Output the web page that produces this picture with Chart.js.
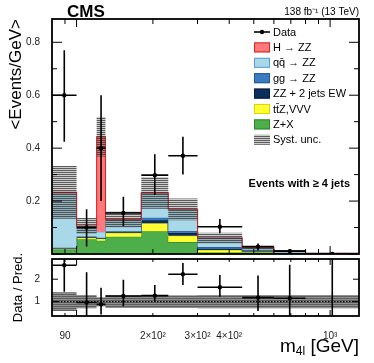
<!DOCTYPE html>
<html>
<head>
<meta charset="utf-8">
<script src="https://cdn.jsdelivr.net/npm/chart.js@4.4.1/dist/chart.umd.min.js"></script>
<style>
  html, body { margin: 0; padding: 0; background: #fff; }
  #wrap { position: relative; width: 374px; height: 363px; }
  #main { position: absolute; left: 0; top: 0; }
  #ratio { position: absolute; left: 0; top: 246px; }
</style>
</head>
<body>
<div id="wrap">
  <canvas id="main" width="374" height="258"></canvas>
  <canvas id="ratio" width="374" height="117"></canvas>
</div>
<script>
// m4l bins (GeV)
const binEdges  = [80, 100, 120, 130, 180, 230, 300, 450, 600, 800, 1300];

// stacked predictions, <Events/GeV>, bottom to top
const zxVals    = [0.016, 0.056, 0.050, 0.065, 0.086, 0.045, 0.006, 0.007, 0.001, 0.0003];
const ttzVals   = [0.003, 0.006, 0.008, 0.015, 0.030, 0.024, 0.009, 0.002, 0.001, 0.0003];
const ewVals    = [0.001, 0.002, 0.001, 0.002, 0.012, 0.010, 0.005, 0.003, 0.001, 0.0003];
const ggVals    = [0.004, 0.002, 0.002, 0.004, 0.009, 0.008, 0.006, 0.004, 0.002, 0.0005];
const qqVals    = [0.204, 0.037, 0.023, 0.040, 0.091, 0.081, 0.034, 0.008, 0.006, 0.0015];
const higgsVals = [0.005, 0.003, 0.359, 0.005, 0.003, 0.001, 0, 0, 0, 0];
const systUnc   = [0.100, 0.030, 0.075, 0.031, 0.060, 0.041, 0.020, 0.006, 0.003, 0.001];

// data
const dataVals  = [0.600, 0.100, 0.400, 0.155, 0.298, 0.371, 0.103, 0.028, 0.011, 0];
const dataHi    = [0.770, 0.169, 0.600, 0.216, 0.377, 0.443, 0.132, 0.040, 0.016, 0.002];
const dataLo    = [0.424, 0.028, 0.200, 0.106, 0.223, 0.300, 0.078, 0.013, 0.007, 0];

// ratio panel
const ratioVals = [2.62, 0.96, 0.88, 1.25, 1.27, 2.22, 1.64, 1.18, 1.15, 0];
const ratioHi   = [3.50, 2.31, 1.62, 1.97, 1.74, 2.72, 2.19, 2.16, 2.64, 5];
const ratioLo   = [1.44, 0.00, 0.43, 0.80, 1.00, 1.74, 1.22, 0.58, 0.20, 0];
const ratioUnc  = [0.42, 0.30, 0.20, 0.28, 0.28, 0.28, 0.30, 0.30, 0.30, 0.30];

// ticks
const xTickVals   = [90, 100, 200, 300, 400, 500, 600, 700, 800, 900, 1000];
const xMajorTicks = [100, 1000];
const xTickLabels = { 90: '90', 200: '2×10²', 300: '3×10²', 400: '4×10²', 1000: '10³' };
const yTickLabels = ['0.2', '0.4', '0.6', '0.8'];
const ratioTicks  = [1, 2];

const FONT = '"Liberation Sans", Arial, Helvetica, sans-serif';

const centers = binEdges.slice(0, -1).map((lo, i) => Math.sqrt(lo * binEdges[i + 1]));

function steps(vals) {
  const pts = vals.map((v, i) => ({ x: binEdges[i], y: v }));
  pts.push({ x: binEdges[binEdges.length - 1], y: vals[vals.length - 1] });
  return pts;
}
function vBars(lo, hi) {
  const out = [];
  centers.forEach((c, i) => out.push({ x: c, y: lo[i] }, { x: c, y: hi[i] }, { x: c, y: null }));
  return out;
}
function hBars(vals) {
  const out = [];
  vals.forEach((v, i) => out.push({ x: binEdges[i], y: v }, { x: binEdges[i + 1], y: v }, { x: binEdges[i + 1], y: null }));
  return out;
}

function hatch(dark, light) {
  const c = document.createElement('canvas');
  c.width = 2; c.height = 2;
  const g = c.getContext('2d');
  g.fillStyle = dark; g.fillRect(0, 0, 2, 1);
  if (light) { g.fillStyle = light; g.fillRect(0, 1, 2, 1); }
  return g.createPattern(c, 'repeat');
}
const bandPattern = hatch('rgba(50,50,50,0.8)', 'rgba(90,90,90,0.3)');
const ratioPattern = hatch('#5e5e5e', '#909090');

// stack
const layers = [
  { label: 'Z+X',            vals: zxVals,    bg: '#4eae4a', bd: '#2c8a2c' },
  { label: 'tt̄Z,VVV',        vals: ttzVals,   bg: '#ffff33', bd: '#d8d800' },
  { label: 'ZZ + 2 jets EW', vals: ewVals,    bg: '#0c2e5c', bd: '#071c3a' },
  { label: 'gg → ZZ',        vals: ggVals,    bg: '#3a7cbf', bd: '#245890' },
  { label: 'qq̄ → ZZ',        vals: qqVals,    bg: '#a9d8e8', bd: '#5a9bd3' },
  { label: 'H → ZZ',         vals: higgsVals, bg: '#ff7b7b', bd: '#dd2222' }
];
let run = centers.map(() => 0);
const cum = layers.map(l => (run = run.map((s, i) => s + l.vals[i])));
const total = cum[cum.length - 1];

const stackSets = layers.map((l, k) => ({
  label: l.label,
  data: steps(cum[k]),
  stepped: 'before',
  fill: k === 0 ? 'origin' : '-1',
  backgroundColor: l.bg,
  borderColor: l.bd,
  borderWidth: 1.1,
  pointRadius: 0,
  order: 20 - k
}));

function errSets(vals, lo, hi) {
  return [
    { data: vBars(lo, hi), borderColor: '#000', borderWidth: 1.6, pointRadius: 0, fill: false, spanGaps: false, clip: 0, order: 1 },
    { data: hBars(vals), borderColor: '#000', borderWidth: 1.6, pointRadius: 0, fill: false, spanGaps: false, clip: 0, order: 1 },
    { data: centers.map((c, i) => ({ x: c, y: vals[i] })), showLine: false, pointRadius: 2.2, pointBorderWidth: 0,
      pointBackgroundColor: '#000', backgroundColor: '#000', clip: 0, order: 0 }
  ];
}

// frame + inward ticks
function frameTicks(cfg) {
  return {
    id: 'frameTicks',
    afterDatasetsDraw(chart) {
      const { ctx, chartArea: a, scales: { x, y } } = chart;
      ctx.save();
      ctx.strokeStyle = '#000';
      ctx.lineWidth = 1;
      ctx.beginPath();
      y.ticks.forEach(t => {
        const py = y.getPixelForValue(t.value);
        const len = cfg.yMajor(t.value) ? cfg.yLen[0] : cfg.yLen[1];
        ctx.moveTo(a.left, py); ctx.lineTo(a.left + len, py);
        ctx.moveTo(a.right, py); ctx.lineTo(a.right - len, py);
      });
      x.ticks.forEach(t => {
        const px = x.getPixelForValue(t.value);
        const len = xMajorTicks.includes(t.value) ? cfg.xLen[0] : cfg.xLen[1];
        ctx.moveTo(px, a.bottom); ctx.lineTo(px, a.bottom - len);
        ctx.moveTo(px, a.top); ctx.lineTo(px, a.top + len);
      });
      ctx.stroke();
      ctx.lineWidth = 1.8;
      ctx.strokeRect(a.left, a.top, a.right - a.left, a.bottom - a.top);
      ctx.restore();
    }
  };
}

const noPadX = s => { s.paddingLeft = 0; s.paddingRight = 0; };
const noPadY = s => { s.paddingTop = 0; s.paddingBottom = 0; };

const xScaleBase = {
  type: 'logarithmic',
  min: binEdges[0],
  max: binEdges[binEdges.length - 1],
  grid: { display: false },
  border: { display: false },
  afterBuildTicks: s => { s.ticks = xTickVals.map(v => ({ value: v })); }
};

// main panel
const mainLegend = {
  id: 'mainText',
  afterDraw(chart) {
    const { ctx } = chart;
    ctx.save();
    ctx.fillStyle = '#000';
    ctx.textBaseline = 'alphabetic';
    ctx.font = 'bold 17px ' + FONT;
    ctx.textAlign = 'left';
    ctx.fillText('CMS', 67, 17);
    ctx.font = '10px ' + FONT;
    ctx.textAlign = 'right';
    ctx.fillText('138 fb⁻¹ (13 TeV)', 359, 15);
    ctx.font = 'bold 11px ' + FONT;
    ctx.fillText('Events with ≥ 4 jets', 350, 187);

    // legend
    const bx = 254, bw = 16, bh = 10, tx = 273;
    const rowY = i => 32 + i * 15.4;
    ctx.textAlign = 'left';
    ctx.textBaseline = 'middle';
    ctx.font = '11px ' + FONT;
    ctx.lineWidth = 1.6;
    ctx.strokeStyle = '#000';
    ctx.beginPath(); ctx.moveTo(bx, rowY(0)); ctx.lineTo(bx + bw, rowY(0)); ctx.stroke();
    ctx.beginPath(); ctx.arc(bx + bw / 2, rowY(0), 2.2, 0, Math.PI * 2); ctx.fill();
    ctx.fillText('Data', tx, rowY(0) + 0.5);
    const entries = layers.slice().reverse();
    entries.forEach((l, i) => {
      const yy = rowY(i + 1);
      ctx.fillStyle = l.bg;
      ctx.fillRect(bx, yy - bh / 2, bw, bh);
      ctx.lineWidth = 1;
      ctx.strokeStyle = l.bd;
      ctx.strokeRect(bx + 0.5, yy - bh / 2 + 0.5, bw - 1, bh - 1);
      ctx.fillStyle = '#000';
      ctx.fillText(l.label, tx, yy + 0.5);
    });
    const sy = rowY(7);
    ctx.fillStyle = bandPattern;
    ctx.fillRect(bx, sy - bh / 2, bw, bh);
    ctx.fillStyle = '#000';
    ctx.fillText('Syst. unc.', tx, sy + 0.5);
    ctx.restore();
  }
};

new Chart(document.getElementById('main'), {
  type: 'line',
  data: {
    datasets: [
      ...stackSets,
      { data: steps(total.map((t, i) => t - systUnc[i])), stepped: 'before', borderWidth: 0, pointRadius: 0, fill: false, order: 5 },
      { data: steps(total.map((t, i) => t + systUnc[i])), stepped: 'before', borderWidth: 0, pointRadius: 0,
        fill: layers.length, backgroundColor: bandPattern, order: 4 },
      ...errSets(dataVals, dataLo, dataHi)
    ]
  },
  options: {
    responsive: false,
    animation: false,
    events: [],
    layout: { padding: { left: 0, right: 15, top: 19, bottom: 4 } },
    plugins: { legend: { display: false }, tooltip: { enabled: false } },
    scales: {
      x: { ...xScaleBase, ticks: { display: false }, afterFit: s => { s.height = 0; noPadX(s); } },
      y: {
        min: 0, max: 0.888,
        grid: { display: false },
        border: { display: false },
        afterBuildTicks: s => {
          const t = [];
          for (let k = 0; k <= 17; k++) t.push({ value: Math.round(k * 5) / 100 });
          s.ticks = t;
        },
        ticks: {
          padding: 4, color: '#222', font: { family: FONT, size: 10 },
          callback: v => yTickLabels.find(l => Math.abs(parseFloat(l) - v) < 1e-6) || ''
        },
        title: { display: true, text: '<Events/GeV>', align: 'end', color: '#000',
                 font: { family: FONT, size: 17 }, padding: { top: 6, bottom: 0 } },
        afterFit: s => { s.width = 52; noPadY(s); }
      }
    }
  },
  plugins: [frameTicks({ yMajor: v => Math.abs(v * 5 - Math.round(v * 5)) < 1e-6, yLen: [10, 5], xLen: [8, 5] }), mainLegend]
});

// ratio panel
const ratioText = {
  id: 'ratioText',
  afterDraw(chart) {
    const { ctx } = chart;
    ctx.save();
    ctx.fillStyle = '#000';
    ctx.textBaseline = 'alphabetic';
    ctx.textAlign = 'left';
    const big = '19px ' + FONT, small = '12px ' + FONT;
    ctx.font = big;
    const w1 = ctx.measureText('m').width;
    const w3 = ctx.measureText(' [GeV]').width;
    ctx.font = small;
    const w2 = ctx.measureText('4l').width;
    let x0 = 359 - w1 - w2 - w3;
    const base = 105.5;
    ctx.font = big; ctx.fillText('m', x0, base);
    ctx.font = small; ctx.fillText('4l', x0 + w1, base + 3);
    ctx.font = big; ctx.fillText(' [GeV]', x0 + w1 + w2, base);
    ctx.restore();
  }
};

new Chart(document.getElementById('ratio'), {
  type: 'line',
  data: {
    datasets: [
      { data: steps(ratioUnc.map(u => 1 - u)), stepped: 'before', borderWidth: 0, pointRadius: 0, fill: false, order: 6 },
      { data: steps(ratioUnc.map(u => 1 + u)), stepped: 'before', borderWidth: 0, pointRadius: 0,
        fill: 0, backgroundColor: ratioPattern, order: 5 },
      { data: [{ x: binEdges[0], y: 1 }, { x: binEdges[binEdges.length - 1], y: 1 }], borderColor: '#000',
        borderWidth: 1.2, borderDash: [1.5, 1.5], pointRadius: 0, fill: false, order: 3 },
      ...errSets(ratioVals, ratioLo, ratioHi)
    ]
  },
  options: {
    responsive: false,
    animation: false,
    events: [],
    layout: { padding: { left: 0, right: 15, top: 13, bottom: 0 } },
    plugins: { legend: { display: false }, tooltip: { enabled: false } },
    scales: {
      x: {
        ...xScaleBase,
        ticks: {
          autoSkip: false, maxRotation: 0, padding: 6, color: '#222', font: { family: FONT, size: 10 },
          callback: v => xTickLabels[v] || ''
        },
        afterFit: s => { s.height = 47; noPadX(s); }
      },
      y: {
        min: 0.36, max: 2.9,
        grid: { display: false },
        border: { display: false },
        afterBuildTicks: s => { s.ticks = ratioTicks.map(v => ({ value: v })); },
        ticks: { padding: 4, color: '#222', font: { family: FONT, size: 10 } },
        title: { display: true, text: 'Data / Pred.', align: 'center', color: '#000',
                 font: { family: FONT, size: 13 }, padding: { top: 11, bottom: 0 } },
        afterFit: s => { s.width = 52; noPadY(s); }
      }
    }
  },
  plugins: [frameTicks({ yMajor: () => true, yLen: [6, 3], xLen: [6, 3] }), ratioText]
});
</script>
</body>
</html>
